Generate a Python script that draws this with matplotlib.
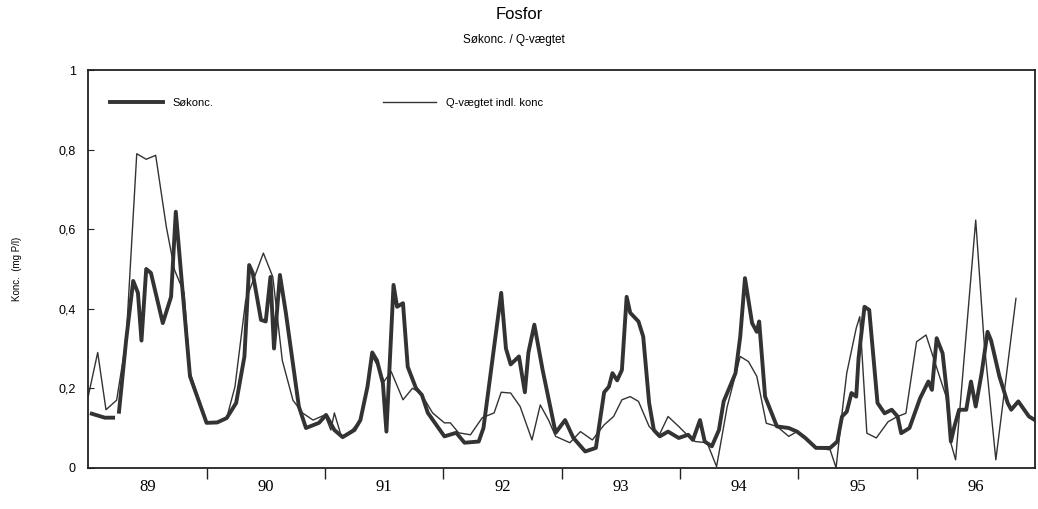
import numpy as np
import matplotlib
matplotlib.use("Agg")
import matplotlib.pyplot as plt

# Søkonc. (thick line) - decimal year, mg P/l
so_t = [1989.03, 1989.14, 1989.21, np.nan,
        1989.26, 1989.32, 1989.38, 1989.42, 1989.45, 1989.49, 1989.53, 1989.63,
        1989.70, 1989.74, 1989.79, 1989.86, 1989.94, 1990.00, 1990.09, 1990.17,
        1990.25, 1990.32, 1990.36, 1990.39, 1990.46, 1990.50, 1990.54, 1990.57,
        1990.62, 1990.67, 1990.78, 1990.84, 1990.95, 1991.01, 1991.08, 1991.15,
        1991.25, 1991.30, 1991.36, 1991.40, 1991.44, 1991.49, 1991.52, 1991.58,
        1991.61, 1991.66, 1991.70, 1991.77, 1991.82, 1991.87, 1992.01, 1992.11,
        1992.18, 1992.30, 1992.34, 1992.49, 1992.53, 1992.57, 1992.64, 1992.69,
        1992.72, 1992.77, 1992.84, 1992.95, 1993.03, 1993.10, 1993.20, 1993.29,
        1993.36, 1993.40, 1993.43, 1993.47, 1993.51, 1993.55, 1993.58, 1993.65,
        1993.69, 1993.74, 1993.78, 1993.83, 1993.90, 1993.99, 1994.07, 1994.11,
        1994.17, 1994.21, 1994.27, 1994.33, 1994.37, 1994.47, 1994.51, 1994.55,
        1994.61, 1994.65, 1994.67, 1994.72, 1994.82, 1994.92, 1994.99, 1995.06,
        1995.15, 1995.27, 1995.33, 1995.37, 1995.41, 1995.45, 1995.49, 1995.51,
        1995.56, 1995.60, 1995.67, 1995.73, 1995.79, 1995.84, 1995.87, 1995.94,
        1996.03, 1996.10, 1996.13, 1996.17, 1996.22, 1996.26, 1996.29, 1996.32,
        1996.36, 1996.42, 1996.46, 1996.50, 1996.55, 1996.60, 1996.63, 1996.70,
        1996.77, 1996.80, 1996.86, 1996.95, 1997.00]
so_v = [0.136, 0.126, 0.126, np.nan,
        0.141, 0.32, 0.47, 0.44, 0.32, 0.50, 0.49, 0.364,
        0.43, 0.644, 0.47, 0.23, 0.163, 0.113, 0.114, 0.125,
        0.163, 0.28, 0.51, 0.49, 0.372, 0.368, 0.48, 0.30,
        0.485, 0.39, 0.154, 0.10, 0.113, 0.133, 0.095, 0.077,
        0.095, 0.12, 0.204, 0.29, 0.27, 0.213, 0.091, 0.46,
        0.405, 0.414, 0.254, 0.20, 0.183, 0.138, 0.079, 0.088,
        0.063, 0.066, 0.10, 0.44, 0.30, 0.26, 0.28, 0.19,
        0.29, 0.36, 0.246, 0.088, 0.12, 0.075, 0.041, 0.05,
        0.19, 0.204, 0.238, 0.22, 0.246, 0.43, 0.39, 0.368,
        0.33, 0.163, 0.095, 0.079, 0.091, 0.075, 0.083, 0.07,
        0.12, 0.066, 0.054, 0.095, 0.167, 0.238, 0.33, 0.477,
        0.364, 0.342, 0.368, 0.179, 0.104, 0.10, 0.091, 0.075,
        0.05, 0.05, 0.066, 0.129, 0.141, 0.188, 0.179, 0.276,
        0.405, 0.397, 0.163, 0.137, 0.146, 0.129, 0.087, 0.10,
        0.175, 0.217, 0.196, 0.326, 0.288, 0.179, 0.066, 0.104,
        0.146, 0.146, 0.217, 0.154, 0.238, 0.342, 0.32, 0.23,
        0.163, 0.146, 0.167, 0.129, 0.12]

# Q-vægtet indl. konc (thin line)
q_t = [1989.00, 1989.08, 1989.15, 1989.24, 1989.32, 1989.41, 1989.49, 1989.57,
       1989.66, 1989.73, 1989.81, 1989.86, 1990.00, 1990.09, 1990.17, 1990.24,
       1990.33, 1990.48, 1990.56, 1990.64, 1990.73, 1990.81, 1990.90, 1991.00,
       1991.05, 1991.08, 1991.14, 1991.23, 1991.30, 1991.36, 1991.40, 1991.44,
       1991.50, 1991.56, 1991.66, 1991.74, 1991.81, 1991.91, 1992.01, 1992.06,
       1992.13, 1992.23, 1992.33, 1992.43, 1992.49, 1992.57, 1992.65, 1992.75,
       1992.82, 1992.89, 1992.95, 1993.07, 1993.16, 1993.26, 1993.36, 1993.44,
       1993.51, 1993.58, 1993.65, 1993.74, 1993.82, 1993.90, 1993.99, 1994.06,
       1994.13, 1994.23, 1994.31, 1994.40, 1994.51, 1994.58, 1994.65, 1994.73,
       1994.82, 1994.92, 1994.99, 1995.06, 1995.15, 1995.27, 1995.32, 1995.37,
       1995.41, 1995.49, 1995.52, 1995.58, 1995.66, 1995.76, 1995.84, 1995.91,
       1996.00, 1996.08, 1996.15, 1996.25, 1996.29, 1996.33, 1996.50, 1996.57,
       1996.67, 1996.84]
q_v = [0.18, 0.29, 0.146, 0.17, 0.32, 0.79, 0.776, 0.786,
       0.606, 0.497, 0.44, 0.24, 0.113, 0.114, 0.125, 0.204,
       0.42, 0.54, 0.48, 0.27, 0.17, 0.138, 0.12, 0.133,
       0.095, 0.138, 0.078, 0.095, 0.12, 0.204, 0.28, 0.26,
       0.217, 0.242, 0.171, 0.20, 0.188, 0.138, 0.113, 0.113,
       0.088, 0.083, 0.126, 0.138, 0.19, 0.188, 0.154, 0.07,
       0.158, 0.12, 0.079, 0.063, 0.091, 0.07, 0.108, 0.129,
       0.171, 0.179, 0.167, 0.104, 0.079, 0.129, 0.104, 0.083,
       0.066, 0.063, 0.003, 0.154, 0.28, 0.267, 0.23, 0.112,
       0.104, 0.079, 0.091, 0.075, 0.05, 0.045, 0.0, 0.137,
       0.238, 0.351, 0.38, 0.087, 0.075, 0.116, 0.129, 0.137,
       0.317, 0.334, 0.27, 0.179, 0.062, 0.02, 0.623, 0.32,
       0.02, 0.426]

years = [1989, 1990, 1991, 1992, 1993, 1994, 1995, 1996]
year_labels = ["89", "90", "91", "92", "93", "94", "95", "96"]
y_ticks = [0, 0.2, 0.4, 0.6, 0.8, 1]
y_labels = ["0", "0,2", "0,4", "0,6", "0,8", "1"]

line_col = "#333333"

fig = plt.figure(figsize=(10.38, 5.09), dpi=100)
ax = fig.add_axes([0.085, 0.081, 0.912, 0.781])

ax.plot(so_t, so_v, color=line_col, lw=2.8, label="Søkonc.")
ax.plot(q_t, q_v, color=line_col, lw=1.0, label="Q-vægtet indl. konc")

ax.set_xlim(1989, 1997)
ax.set_ylim(0, 1)

# year boundaries as tick marks, year names centred between them
ax.set_xticks(years[1:])
ax.set_xticklabels([])
ax.set_xticks([y + 0.5 for y in years], minor=True)
ax.set_xticklabels(year_labels, minor=True, fontfamily="Liberation Serif", fontsize=12)
ax.tick_params(axis="x", which="major", direction="out", length=8, width=1, color="#222222")
ax.tick_params(axis="x", which="minor", length=0, pad=8)

ax.set_yticks(y_ticks)
ax.set_yticklabels(y_labels, fontfamily="Liberation Sans", fontsize=9)
ax.tick_params(axis="y", direction="in", length=4, pad=9, color="#222222")
ax.set_ylabel("Konc.  (mg P/l)", fontfamily="Liberation Sans", fontsize=7, labelpad=26)

for s in ax.spines.values():
    s.set_linewidth(1.3)
    s.set_color("#222222")

ax.legend(loc="upper left", bbox_to_anchor=(0.012, 0.955), ncol=2, frameon=False,
          handlelength=4.8, columnspacing=15.2, handletextpad=0.9,
          prop={"family": "Liberation Sans", "size": 8})

fig.text(0.5, 0.972, "Fosfor", ha="center", va="center", fontfamily="Liberation Sans", fontsize=12)
fig.text(0.495, 0.922, "Søkonc. / Q-vægtet", ha="center", va="center", fontfamily="Liberation Sans", fontsize=8.5)

fig.savefig("out.png", dpi=100)
